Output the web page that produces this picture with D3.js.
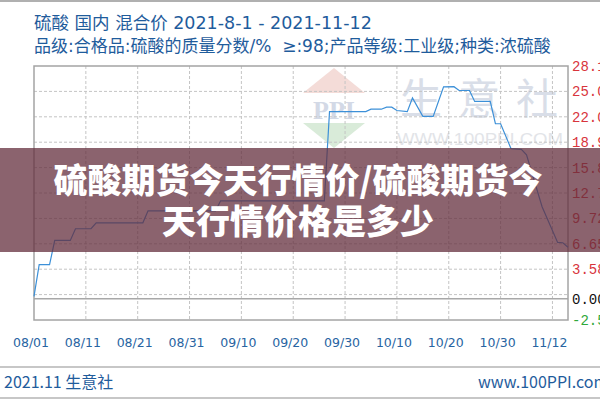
<!DOCTYPE html>
<html><head><meta charset="utf-8">
<script src="https://cdn.jsdelivr.net/npm/d3@7"></script>
<style>html,body{margin:0;padding:0;background:#fff;overflow:hidden}svg{display:block}</style>
</head><body>
<svg id="c" width="600" height="400"></svg>
<script>
// ---- data ----
const titleLines = ["硫酸 国内 混合价 2021-8-1 - 2021-11-12",
                    "品级:合格品:硫酸的质量分数/%  ≥:98;产品等级:工业级;种类:浓硫酸"];
const dates = ["2021-08-01","2021-08-02","2021-08-04","2021-08-05","2021-08-08","2021-08-09",
  "2021-08-12","2021-08-13","2021-08-22","2021-08-23","2021-09-05","2021-09-06","2021-09-26",
  "2021-09-27","2021-10-04","2021-10-05","2021-10-07","2021-10-08","2021-10-09","2021-10-10",
  "2021-10-12","2021-10-13","2021-10-15","2021-10-17","2021-10-19","2021-10-21","2021-10-22",
  "2021-10-24","2021-10-25","2021-10-28","2021-10-29","2021-10-30","2021-11-01","2021-11-03",
  "2021-11-04","2021-11-07","2021-11-10","2021-11-11","2021-11-12"];
const values = [0.30,4.13,4.13,7.06,7.06,8.47,
  8.47,9.19,9.19,10.64,10.64,11.85,11.85,
  22.63,22.63,22.92,22.92,23.16,23.16,22.76,
  22.63,24.28,22.05,22.05,25.62,25.64,25.18,
  25.18,23.86,23.86,21.16,21.16,18.16,18.06,
  17.40,11.13,6.82,6.78,6.24];
const xTickDates = ["2021-08-01","2021-08-11","2021-08-21","2021-08-31","2021-09-10","2021-09-20",
  "2021-09-30","2021-10-10","2021-10-20","2021-10-30","2021-11-09"];
const xTickLabels = ["08/01","08/11","08/21","08/31","09/10","09/20","09/30","10/10","10/20","10/30","11/12"];
const yGridValues = [0.51,3.58,6.65,9.72,12.79,15.86,18.93,22.00,25.07];
const yTickValues = [28.14,25.07,22.00,18.93,15.86,12.79,9.72,6.65,3.58,0.00,-2.56];
const yTickLabels = ["28.14","25.07","22.00","18.93","15.86","12.79","9.72","6.65","3.58","0.00","-2.56"];
const bannerLines = ["硫酸期货今天行情价/硫酸期货今","天行情价格是多少"];
const footerLeft = "2021.11 生意社";
const footerRight = "www.100PPI.com";

// ---- layout ----
const L = 34, R = 568, T = 66, B = 320;
const parse = d3.utcParse("%Y-%m-%d");
const svg = d3.select("#c");
const x = d3.scaleUtc().domain([parse("2021-08-01"), parse("2021-11-12")]).range([L, R]);
const y = d3.scaleLinear().domain([-2.56, 28.14]).range([B, T]);
const cjk = "'Noto Sans CJK SC','Noto Sans',sans-serif";
const mixed = "'DejaVu Sans','Noto Sans CJK SC',sans-serif";
const blue = "#1f5c9c";

// top line
svg.append("line").attr("x1",0).attr("x2",600).attr("y1",1).attr("y2",1).attr("stroke","#b0b0b0").attr("stroke-width",2);

// titles
svg.selectAll("text.title").data(titleLines).join("text")
  .attr("x", 34).attr("y", (d,i)=> i===0 ? 29 : 52)
  .style("white-space","pre")
  .attr("font-family", mixed).attr("font-size", (d,i)=> i===0 ? 17.5 : 17).attr("fill", blue).text(d=>d);

// watermark
const wm = svg.append("g");
wm.append("path").attr("d", `M303,93 L334,68 L365,93 Z`).attr("fill","#f4dcd8");
wm.append("text").attr("x",334).attr("y",119).attr("text-anchor","middle")
  .attr("font-family","'Liberation Serif',serif").attr("font-size",26).attr("font-weight","bold")
  .attr("fill","#d3d9e6").text("PPI");
wm.append("path").attr("d", `M303,123 L365,123 L334,148 Z`).attr("fill","#d9ebd9");
wm.append("text").attr("x",400).attr("y",114).attr("font-family",cjk).attr("font-size",42)
  .attr("letter-spacing",16).attr("fill","#d9dee8").text("生意社");
wm.append("text").attr("x",397).attr("y",145).attr("font-family","'Liberation Sans',sans-serif")
  .attr("font-size",16).attr("textLength",166).attr("lengthAdjust","spacingAndGlyphs")
  .attr("fill","#e2e4e8").text("WWW.100PPI.COM");

// grid
const dash = "3,2";
svg.append("g").selectAll("line").data(yGridValues).join("line")
  .attr("x1",L).attr("x2",R).attr("y1",d=>y(d)).attr("y2",d=>y(d))
  .attr("stroke","#c4c4c4").attr("stroke-dasharray",dash);
svg.append("g").selectAll("line").data(xTickDates.slice(1)).join("line")
  .attr("x1",d=>x(parse(d))).attr("x2",d=>x(parse(d))).attr("y1",T).attr("y2",B)
  .attr("stroke","#c4c4c4").attr("stroke-dasharray",dash);
// zero line
svg.append("line").attr("x1",L).attr("x2",R).attr("y1",y(0)).attr("y2",y(0))
  .attr("stroke","#a8a8a8").attr("stroke-width",1.5);
// border
svg.append("rect").attr("x",L).attr("y",T).attr("width",R-L).attr("height",B-T)
  .attr("fill","none").attr("stroke","#a4a4a4").attr("stroke-width",1.5);

// line
const data = dates.map((d,i)=>({date: parse(d), v: values[i]}));
svg.append("path").datum(data)
  .attr("d", d3.line().x(d=>x(d.date)).y(d=>y(d.v)))
  .attr("fill","none").attr("stroke","#3c90d8").attr("stroke-width",1.2);

// right labels
svg.append("g").selectAll("text").data(yTickValues).join("text")
  .attr("x", 572).attr("y", d=>y(d)).attr("dy","0.35em")
  .attr("font-family","'Liberation Mono','DejaVu Sans Mono',monospace").attr("font-size",14)
  .attr("fill", d=> d>0 ? "#d8343c" : (d<0 ? "#2fa83a" : "#111"))
  .text((d,i)=>yTickLabels[i]);

// x labels
svg.append("g").selectAll("text").data(xTickDates).join("text")
  .attr("x", d=>x(parse(d))-3).attr("y", 347).attr("text-anchor","middle")
  .attr("font-family","'DejaVu Sans',sans-serif").attr("font-size",12.5).attr("fill","#2864a2")
  .text((d,i)=>xTickLabels[i]);

// footer
svg.append("line").attr("x1",0).attr("x2",600).attr("y1",367).attr("y2",367).attr("stroke","#b4b4b4").attr("stroke-width",1.5);
svg.append("line").attr("x1",0).attr("x2",600).attr("y1",398).attr("y2",398).attr("stroke","#b4b4b4").attr("stroke-width",1.5);
svg.append("text").attr("x",4).attr("y",388).attr("font-family",cjk).attr("font-size",16).attr("fill",blue).text(footerLeft);
svg.append("text").attr("x",478).attr("y",388).attr("font-family",cjk).attr("font-size",16).attr("fill",blue).text(footerRight);

// banner overlay
svg.append("rect").attr("x",0).attr("y",148).attr("width",600).attr("height",104)
  .attr("fill","rgb(100,47,62)").attr("fill-opacity",0.75);
svg.selectAll("text.banner").data(bannerLines).join("text")
  .attr("x", 298).attr("y",(d,i)=> i===0 ? 193 : 234).attr("text-anchor","middle")
  .attr("font-family",cjk).attr("font-weight",900).attr("font-size",34)
  .attr("fill","#fff").text(d=>d);
</script>
</body></html>
